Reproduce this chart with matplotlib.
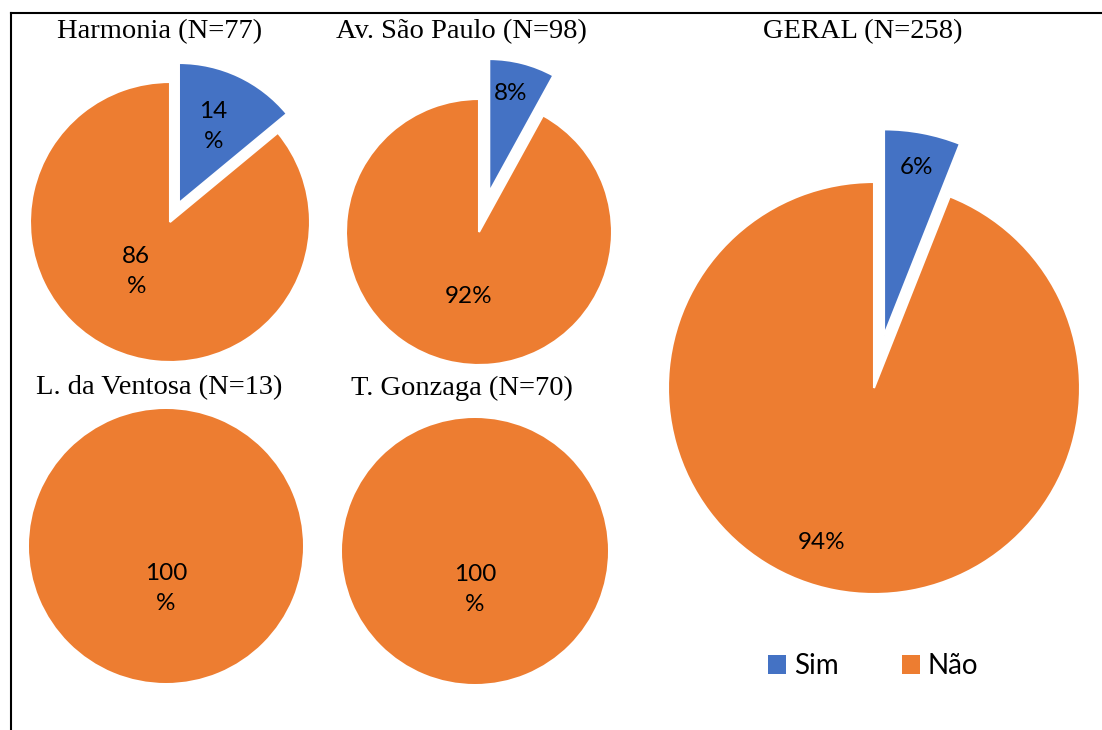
import matplotlib
matplotlib.use('Agg')
import matplotlib.pyplot as plt
from matplotlib.patches import Patch
from matplotlib.lines import Line2D
import numpy as np

W, H = 1102, 730
BLUE, ORANGE = '#4472C4', '#ED7D31'

categories = ['Sim', 'Não']
titles = ['Harmonia (N=77)', 'Av. São Paulo (N=98)', 'L. da Ventosa (N=13)',
          'T. Gonzaga (N=70)', 'GERAL (N=258)']
sim_pct = [14, 8, 0, 0, 6]
nao_pct = [86, 92, 100, 100, 94]
label_text = [['14\n%', '86\n%'], ['8%', '92%'], ['', '100\n%'], ['', '100\n%'], ['6%', '94%']]

# layout (pixels): pie centre, radius, explode of Sim, label distance / angle shift, title centre
centres = [(170, 222), (479, 232), (166, 546), (475, 551), (874, 388)]
radii = [140, 133, 137, 133, 206]
explodes = [0.15, 0.31, 0.0, 0.0, 0.26]
label_dist = [(0.60, 0.43), (0.76, 0.49), (0, 0.31), (0, 0.29), (0.83, 0.79)]
label_turn = [(1, -9), (2, 5), (0, 0), (0, 0), (0, -8)]
title_pos = [(160, 32), (461, 32), (159, 388), (462, 388), (863, 32)]

plt.rcParams['font.family'] = ['Lato', 'DejaVu Sans']
fig = plt.figure(figsize=(W / 100, H / 100), dpi=100)

def fx(x):
    return x / W

def fy(y):
    return 1 - y / H

L = 1.6
for i in range(len(titles)):
    cx, cy = centres[i]
    r = radii[i]
    ax = fig.add_axes([fx(cx - r * L), fy(cy + r * L), 2 * r * L / W, 2 * r * L / H])
    vals = [sim_pct[i], nao_pct[i]]
    wedges, _ = ax.pie(vals, colors=[BLUE, ORANGE], startangle=90, counterclock=False,
                       explode=[explodes[i], 0],
                       wedgeprops=dict(edgecolor='white', linewidth=1.5))
    for w, v, txt, d, t in zip(wedges, vals, label_text[i], label_dist[i], label_turn[i]):
        if v == 0:
            w.set_linewidth(0)
            continue
        w.set_linewidth(1.5 if v < 100 else 0)
        ang = np.deg2rad((w.theta1 + w.theta2) / 2 + t)
        x0, y0 = w.center
        ax.text(x0 + d * np.cos(ang), y0 + d * np.sin(ang), txt, ha='center', va='center',
                fontsize=17.5, color='black', linespacing=1.55)
    ax.set_xlim(-L, L)
    ax.set_ylim(-L, L)
    ax.set_aspect('equal')
    ax.axis('off')
    fig.text(fx(title_pos[i][0]), fy(title_pos[i][1]), titles[i], ha='center', va='center',
             fontsize=20.5, family='Liberation Serif')

handles = [Patch(facecolor=BLUE, label=categories[0]), Patch(facecolor=ORANGE, label=categories[1])]
fig.legend(handles=handles, loc='center left', bbox_to_anchor=(fx(768), fy(666)), ncol=2,
           frameon=False, fontsize=20, handlelength=0.65, handleheight=0.65,
           handletextpad=0.3, columnspacing=2.25, borderpad=0, borderaxespad=0)

fig.add_artist(Line2D([fx(11), 1], [fy(13), fy(13)], color='black', lw=1.5, transform=fig.transFigure))
fig.add_artist(Line2D([fx(11), fx(11)], [fy(13), 0], color='black', lw=1.5, transform=fig.transFigure))

fig.savefig('out.png', dpi=100)
